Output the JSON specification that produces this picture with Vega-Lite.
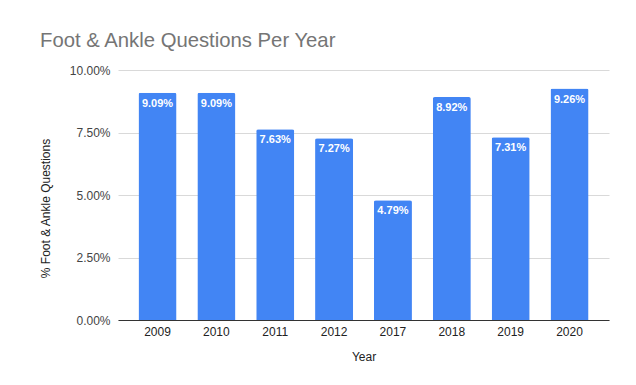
{
  "$schema": "https://vega.github.io/schema/vega-lite/v6.json",
  "width": 491,
  "height": 250,
  "autosize": {"type": "none"},
  "padding": {"left": 118, "top": 70, "right": 27, "bottom": 65},
  "background": "white",
  "title": {
    "text": "Foot & Ankle Questions Per Year",
    "anchor": "start",
    "frame": "group",
    "font": "Liberation Sans",
    "fontSize": 20.3,
    "fontWeight": "normal",
    "color": "#757575",
    "baseline": "alphabetic",
    "dx": -78,
    "dy": 25,
    "offset": 22
  },
  "data": {
    "values": [
      {"Year": "2009", "Pct": 0.0909},
      {"Year": "2010", "Pct": 0.0909},
      {"Year": "2011", "Pct": 0.0763},
      {"Year": "2012", "Pct": 0.0727},
      {"Year": "2017", "Pct": 0.0479},
      {"Year": "2018", "Pct": 0.0892},
      {"Year": "2019", "Pct": 0.0731},
      {"Year": "2020", "Pct": 0.0926}
    ]
  },
  "encoding": {
    "x": {
      "field": "Year",
      "type": "nominal",
      "sort": null,
      "scale": {"paddingInner": 0.354, "paddingOuter": 0.348},
      "axis": {
        "title": "Year",
        "labelAngle": 0,
        "labelFont": "Liberation Sans",
        "labelFontSize": 12,
        "labelColor": "#222222",
        "labelPadding": 6,
        "ticks": false,
        "domainColor": "#333333",
        "domainWidth": 1,
        "titleFont": "Liberation Sans",
        "titleFontSize": 12,
        "titleFontWeight": "normal",
        "titleColor": "#222222",
        "titlePadding": 14
      }
    },
    "y": {
      "field": "Pct",
      "type": "quantitative",
      "scale": {"domain": [0, 0.1]},
      "axis": {
        "title": "% Foot & Ankle Questions",
        "format": ".2%",
        "values": [0, 0.025, 0.05, 0.075, 0.1],
        "labelFont": "Liberation Sans",
        "labelFontSize": 12,
        "labelColor": "#444444",
        "labelPadding": 8,
        "ticks": false,
        "domain": false,
        "gridColor": "#d9d9d9",
        "gridWidth": 1,
        "titleFont": "Liberation Sans",
        "titleFontSize": 12,
        "titleFontWeight": "normal",
        "titleColor": "#222222",
        "titleX": -73,
        "titleY": 138,
        "titleAlign": "center",
        "titleBaseline": "middle"
      }
    }
  },
  "layer": [
    {
      "mark": {"type": "bar", "color": "#4285F4", "cornerRadiusTopLeft": 2, "cornerRadiusTopRight": 2}
    },
    {
      "mark": {"type": "text", "color": "white", "font": "Liberation Sans", "fontSize": 11, "fontWeight": "bold", "baseline": "middle", "dy": 11},
      "encoding": {
        "text": {"field": "Pct", "type": "quantitative", "format": ".2%"}
      }
    }
  ],
  "config": {
    "view": {"stroke": null}
  }
}
